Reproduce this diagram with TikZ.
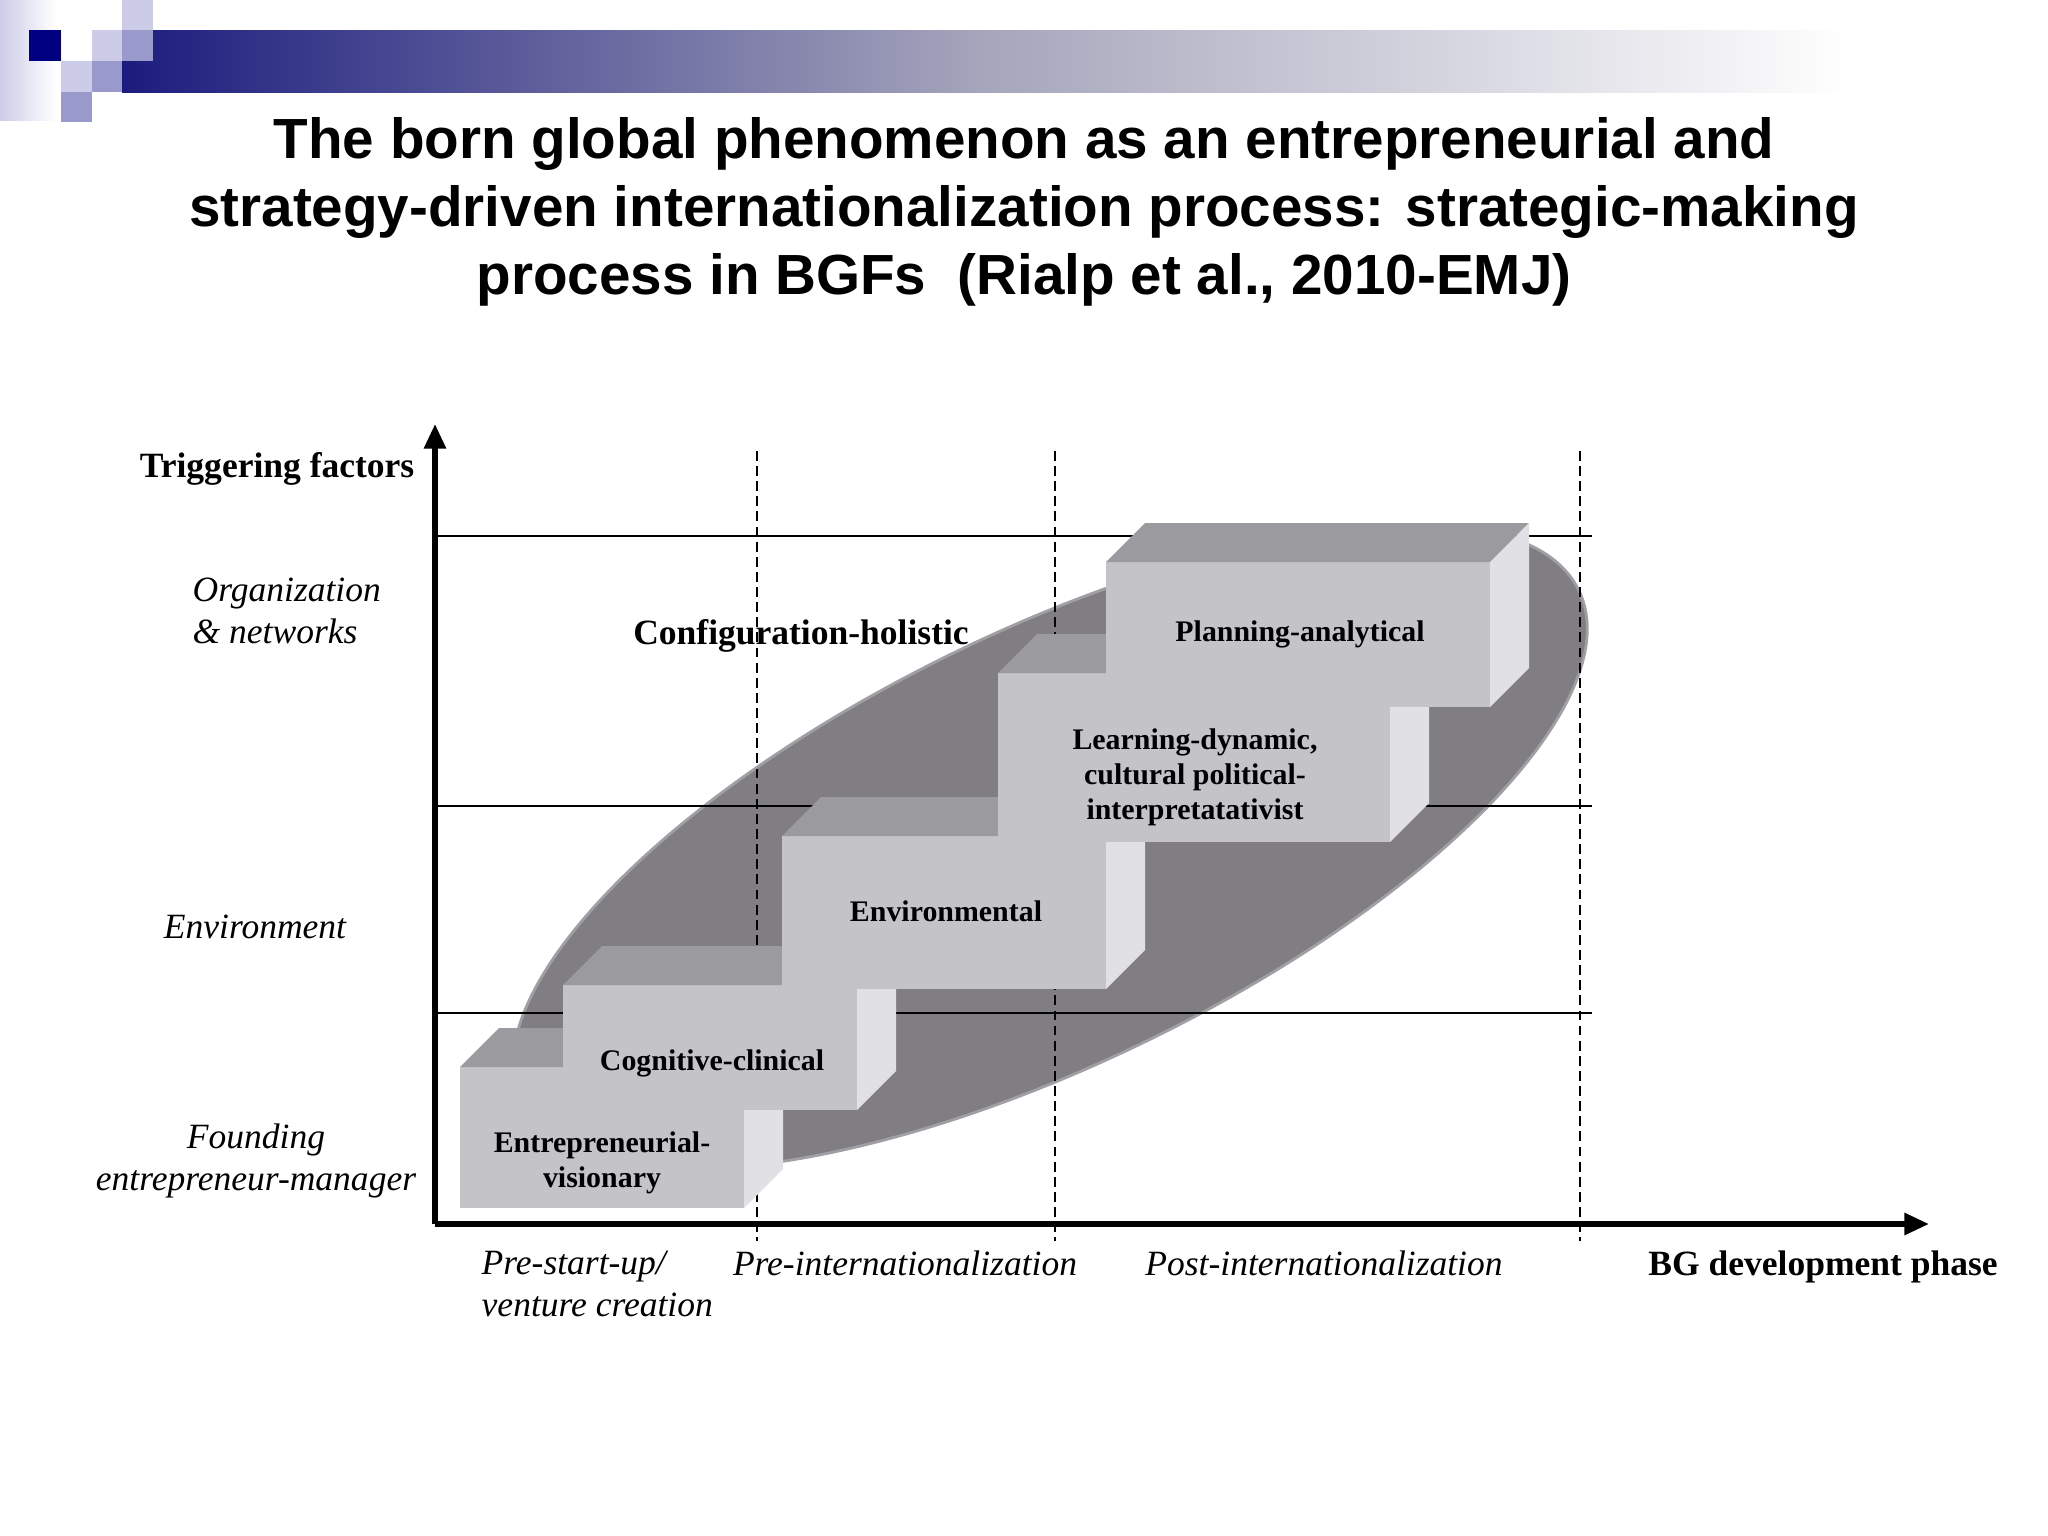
\documentclass[tikz,border=0pt]{standalone}
\usepackage{fontspec}
\setmainfont{Liberation Serif}
\newfontfamily\headfont{Liberation Sans}
\usetikzlibrary{arrows.meta}
\definecolor{barnavy}{RGB}{28,28,126}
\definecolor{barmid}{RGB}{166,166,188}
\definecolor{sqnavy}{RGB}{0,0,128}
\definecolor{lavlight}{RGB}{204,204,232}
\definecolor{lavmid}{RGB}{153,153,204}
\definecolor{blobgray}{RGB}{128,126,131}
\definecolor{rimgray}{RGB}{160,159,163}
\definecolor{frontgray}{RGB}{196,195,199}
\definecolor{topgray}{RGB}{155,154,158}
\definecolor{sidegray}{RGB}{225,224,228}

\begin{document}
\begin{tikzpicture}[x=0.01cm,y=-0.01cm,
    axis/.style={line width=1.6pt,-{Triangle[length=7pt,width=6pt]}},
    band/.style={line width=0.6pt},
    phase/.style={line width=0.6pt,dash pattern=on 2.8pt off 1.5pt},
    boxtext/.style={align=center,inner sep=0pt,font=\bfseries\fontsize{8.5}{10}\selectfont},
    factor/.style={inner sep=0pt,font=\itshape\fontsize{10.1}{11.9}\selectfont},
    heading/.style={inner sep=0pt,font=\bfseries\fontsize{10.1}{11.9}\selectfont}]
  \fill[white] (0,0) rectangle (2048,1536);
  \useasboundingbox (0,0) rectangle (2048,1536);

  \shade[left color=lavlight,right color=white] (0,0) rectangle (56,120);
  \shade[left color=barnavy,right color=white,middle color=barmid] (122,30) rectangle (1850,92);
  \fill[sqnavy] (29,30) rectangle (61,61);
  \fill[lavlight] (92,30) rectangle (122,61);
  \fill[lavmid] (122,30) rectangle (153,61);
  \fill[lavlight] (122,0) rectangle (153,30);
  \fill[lavlight] (61,61) rectangle (92,92);
  \fill[lavmid] (92,61) rectangle (122,92);
  \fill[lavmid] (61,92) rectangle (92,122);

  \node[align=center,inner sep=0pt,font=\headfont\bfseries\fontsize{16.1}{19.4}\selectfont] (title) at (1024,212)
    {The born global phenomenon as an entrepreneurial and\\
     strategy-driven internationalization process: strategic-making\\
     process in BGFs~ (Rialp et al., 2010-EMJ)};

  \fill[blobgray,draw=rimgray,line width=0.8pt,rotate around={25.9:(1050,847)}] (1050,847) ellipse [x radius=5.875cm,y radius=2.166cm];

  \foreach \y in {536,806,1013} \draw[band] (435,\y) -- (1592,\y);
  \foreach \x in {757,1055,1580} \draw[phase] (\x,451) -- (\x,1241);

  \node[heading] (config) at (801,636) {Configuration-holistic};

  \foreach \nm/\xa/\ya/\xb/\yb/\tx/\ty/\txt in {
      entre/460/1067/744/1208/602/1163/{Entrepreneurial-\\visionary},
      cogn/563/985/857/1110/712/1063/{Cognitive-clinical},
      envir/782/836/1106/989/946/911/{Environmental},
      learn/998/673/1390/842/1195/777/{Learning-dynamic,\\cultural political-\\interpretatativist},
      plan/1106/562/1490/707/1300/634/{Planning-analytical}} {
    \fill[frontgray] (\xa,\ya) rectangle (\xb,\yb);
    \fill[topgray] (\xa,\ya) -- (\xa+39,\ya-39) -- (\xb+39,\ya-39) -- (\xb,\ya) -- cycle;
    \fill[sidegray] (\xb,\ya) -- (\xb+39,\ya-39) -- (\xb+39,\yb-39) -- (\xb,\yb) -- cycle;
    \node[boxtext] (\nm) at (\tx,\ty) {\txt};
  }

  \coordinate (origin) at (435,1224);
  \coordinate (ytip) at (435,424);
  \coordinate (xtip) at (1929,1224);
  \draw[axis] (origin) -- (ytip);
  \draw[axis] (origin) -- (xtip);

  \node[heading,anchor=east] (trig) at (415,469) {Triggering factors};
  \node[factor,anchor=west,align=left] (org) at (192,611) {Organization\\\& networks};
  \node[factor] (env) at (255,927) {Environment};
  \node[factor,align=center] (found) at (256,1161) {Founding\\entrepreneur-manager};

  \node[factor,anchor=west,align=left] (prestart) at (481,1284) {Pre-start-up/\\venture creation};
  \node[factor] (preint) at (905,1263) {Pre-internationalization};
  \node[factor] (postint) at (1324,1263) {Post-internationalization};
  \node[heading] (bgphase) at (1823,1267) {BG development phase};
\end{tikzpicture}
\end{document}
